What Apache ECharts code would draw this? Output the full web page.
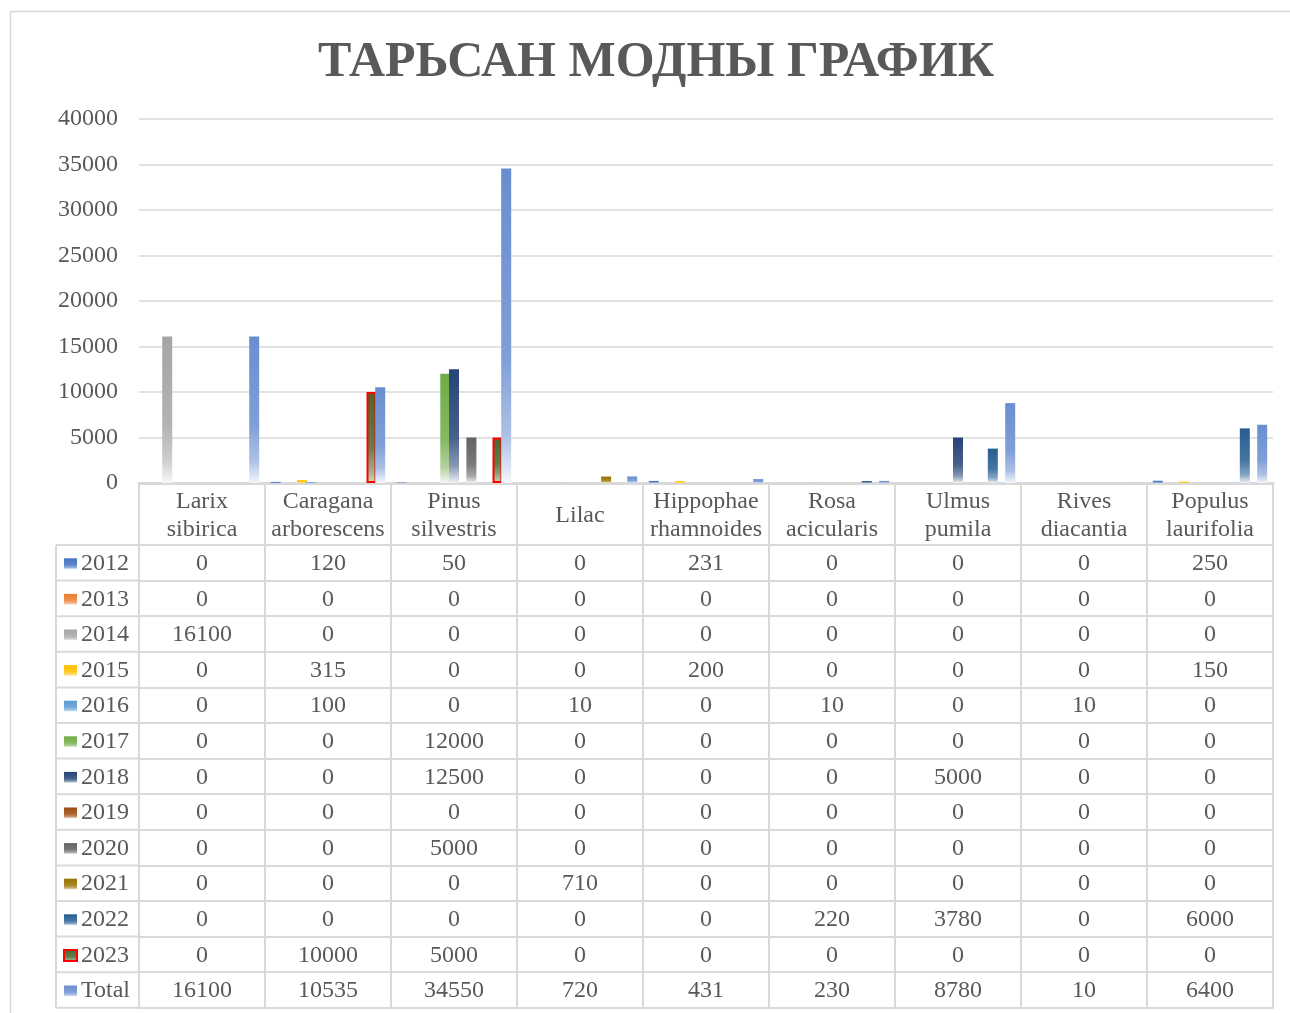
<!DOCTYPE html>
<html>
<head>
<meta charset="utf-8">
<title>Тарьсан модны график</title>
<style>
  html, body { margin: 0; padding: 0; background: #fff; }
  #chart { width: 1290px; height: 1013px; }
</style>
</head>
<body>
<div id="chart"></div>
<script src="https://cdn.jsdelivr.net/npm/echarts@6/dist/echarts.min.js"></script>
<script>
// categories (tree species)
var categories = ['Larix\nsibirica', 'Caragana\narborescens', 'Pinus\nsilvestris', 'Lilac',
  'Hippophae\nrhamnoides', 'Rosa\nacicularis', 'Ulmus\npumila', 'Rives\ndiacantia', 'Populus\nlaurifolia'];

// planted per year
var y2012 = [0, 120, 50, 0, 231, 0, 0, 0, 250];
var y2013 = [0, 0, 0, 0, 0, 0, 0, 0, 0];
var y2014 = [16100, 0, 0, 0, 0, 0, 0, 0, 0];
var y2015 = [0, 315, 0, 0, 200, 0, 0, 0, 150];
var y2016 = [0, 100, 0, 10, 0, 10, 0, 10, 0];
var y2017 = [0, 0, 12000, 0, 0, 0, 0, 0, 0];
var y2018 = [0, 0, 12500, 0, 0, 0, 5000, 0, 0];
var y2019 = [0, 0, 0, 0, 0, 0, 0, 0, 0];
var y2020 = [0, 0, 5000, 0, 0, 0, 0, 0, 0];
var y2021 = [0, 0, 0, 710, 0, 0, 0, 0, 0];
var y2022 = [0, 0, 0, 0, 0, 220, 3780, 0, 6000];
var y2023 = [0, 10000, 5000, 0, 0, 0, 0, 0, 0];
var total = [16100, 10535, 34550, 720, 431, 230, 8780, 10, 6400];

var seriesNames = ['2012', '2013', '2014', '2015', '2016', '2017', '2018', '2019', '2020', '2021', '2022', '2023', 'Total'];
var seriesData = [y2012, y2013, y2014, y2015, y2016, y2017, y2018, y2019, y2020, y2021, y2022, y2023, total];
var seriesColors = ['#4472C4', '#ED7D31', '#A5A5A5', '#FFC000', '#5B9BD5', '#70AD47', '#264478',
  '#9E480E', '#636363', '#997300', '#255E91', '#43682B', '#698ED0'];

var yTicks = { min: 0, max: 40000, interval: 5000 };

// layout
var GRID_LEFT = 139, GRID_RIGHT = 17, GRID_TOP = 119, GRID_BOTTOM = 530;
var AXIS_Y = 1013 - GRID_BOTTOM;   // 483
var HEAD_H = 62;                    // row with species names
var ROW_H = 35.6;
var TABLE_TOP = AXIS_Y + HEAD_H;    // 545
var LEG_LEFT = 56;
var LINE = '#D9D9D9';
var TEXT = '#595959';
var FONT = '"Liberation Serif", "Times New Roman", serif';
var FS = 24;

function mix(hex, t) {
  var r = parseInt(hex.substr(1, 2), 16), g = parseInt(hex.substr(3, 2), 16), b = parseInt(hex.substr(5, 2), 16);
  r = Math.round(r + (255 - r) * t); g = Math.round(g + (255 - g) * t); b = Math.round(b + (255 - b) * t);
  return 'rgb(' + r + ',' + g + ',' + b + ')';
}
function grad(c, top, bottom) {
  return {
    type: 'linear', x: 0, y: 0, x2: 0, y2: 1,
    colorStops: [
      { offset: 0, color: top || c },
      { offset: 0.6, color: mix(c, 0.15) },
      { offset: 0.85, color: mix(c, 0.45) },
      { offset: 1, color: bottom || mix(c, 0.92) }
    ]
  };
}

var myChart = echarts.init(document.getElementById('chart'));

// x axes: the main one plus one per data-table row
var xAxes = [{
  type: 'category',
  data: categories,
  position: 'bottom',
  axisLine: { show: true, lineStyle: { color: LINE, width: 3 } },
  axisTick: { show: true, length: HEAD_H, interval: 0, lineStyle: { color: LINE, width: 2 } },
  axisLabel: { interval: 0, color: TEXT, fontFamily: FONT, fontSize: FS, lineHeight: 28,
    verticalAlign: 'middle', margin: HEAD_H / 2 + 2 }
}];
seriesData.forEach(function (row, i) {
  xAxes.push({
    type: 'category',
    data: row.map(String),
    position: 'bottom',
    offset: HEAD_H + ROW_H * i,
    axisLine: { show: true, lineStyle: { color: LINE, width: 2 } },
    axisTick: { show: true, length: ROW_H, interval: 0, lineStyle: { color: LINE, width: 2 } },
    axisLabel: { interval: 0, color: TEXT, fontFamily: FONT, fontSize: FS,
      verticalAlign: 'middle', margin: ROW_H / 2 + 1 }
  });
});
// closing line under the last row
xAxes.push({
  type: 'category',
  data: categories,
  position: 'bottom',
  offset: HEAD_H + ROW_H * seriesData.length,
  axisLine: { show: true, lineStyle: { color: LINE, width: 2 } },
  axisTick: { show: false },
  axisLabel: { show: false }
});

var series = seriesNames.map(function (name, i) {
  var c = seriesColors[i];
  var style = { color: grad(c) };
  if (name === '2023') {
    style = { color: grad(c, c, '#C5E0B4'), borderColor: '#FF0000', borderWidth: 2 };
  }
  return {
    name: name,
    type: 'bar',
    xAxisIndex: 0,
    barWidth: 10,
    barGap: '-13%',
    itemStyle: style,
    data: seriesData[i].map(function (v) { return v === 0 ? '-' : v; })
  };
});

// borders of the legend column of the table
var legLines = [];
for (var k = 0; k <= seriesData.length; k++) {
  legLines.push({ type: 'line', shape: { x1: LEG_LEFT, y1: TABLE_TOP + ROW_H * k, x2: GRID_LEFT, y2: TABLE_TOP + ROW_H * k },
    style: { stroke: LINE, lineWidth: 2 } });
}
legLines.push({ type: 'line', shape: { x1: LEG_LEFT, y1: TABLE_TOP, x2: LEG_LEFT, y2: TABLE_TOP + ROW_H * seriesData.length },
  style: { stroke: LINE, lineWidth: 2 } });

var option = {
  animation: false,
  backgroundColor: '#fff',
  title: {
    text: 'ТАРЬСАН МОДНЫ ГРАФИК',
    left: 651,
    top: 33,
    textAlign: 'center',
    textStyle: { color: TEXT, fontFamily: FONT, fontWeight: 'bold', fontSize: 50 }
  },
  legend: {
    orient: 'vertical',
    left: 63,
    top: TABLE_TOP + (ROW_H - 24) / 2 + 1,
    padding: 0,
    itemGap: ROW_H - 24,
    itemWidth: 13,
    itemHeight: 11,
    icon: 'rect',
    selectedMode: false,
    data: seriesNames,
    textStyle: { color: TEXT, fontFamily: FONT, fontSize: FS, lineHeight: 24, padding: [0, 0, 0, -1] }
  },
  grid: { left: GRID_LEFT, right: GRID_RIGHT, top: GRID_TOP, bottom: GRID_BOTTOM, containLabel: false },
  xAxis: xAxes,
  yAxis: {
    type: 'value',
    min: yTicks.min,
    max: yTicks.max,
    interval: yTicks.interval,
    axisLine: { show: false },
    axisTick: { show: false },
    splitLine: { lineStyle: { color: LINE, width: 1.5 } },
    axisLabel: { color: TEXT, fontFamily: FONT, fontSize: FS, margin: 21,
      formatter: function (v) { return String(v); } }
  },
  graphic: [
    { type: 'rect', shape: { x: 10.5, y: 11.5, width: 1300, height: 1020 },
      style: { fill: 'none', stroke: LINE, lineWidth: 1.5 } }
  ].concat(legLines),
  series: series
};

myChart.setOption(option);
</script>
</body>
</html>
